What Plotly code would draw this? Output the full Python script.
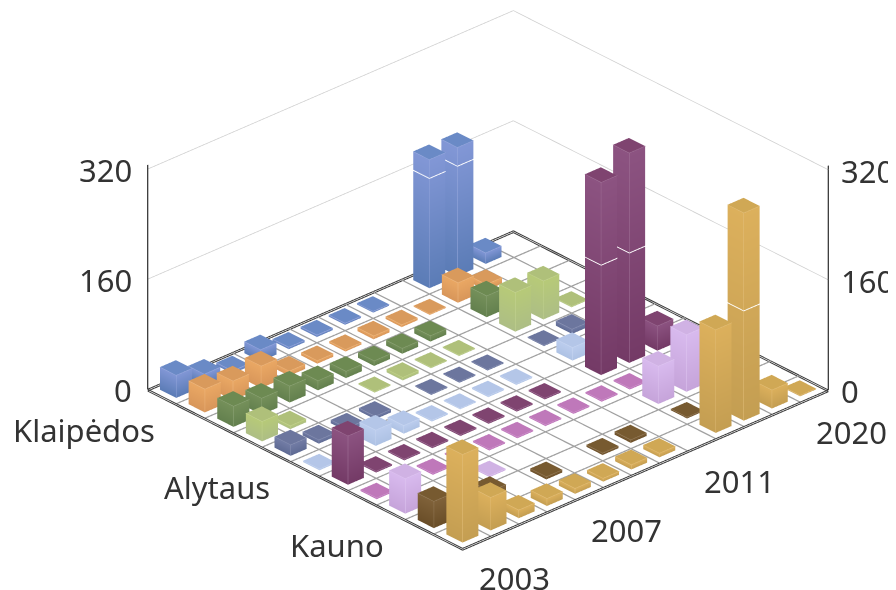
import math
import plotly.graph_objects as go

rows = ["Klaipėdos", "", "", "", "Alytaus", "", "", "", "Kauno", "", ""]
years = ["2003", "", "", "", "2007", "", "", "", "2011", "", "", "", "2020"]

klaipedos = [33, 17, 4, 17, 3, 3, 2.5, 2, 0, 187, 187, 16, 0]
r1 = [34, 28, 32, 7, 4.5, 3, 5, 3.5, 1.5, 29, 9, 0, 0]
r2 = [30, 24, 24, 14, 10, 7.5, 8, 8.5, 0, 31, 0, 0, 0]
r3 = [29, 5, 0, 0, 1.5, 4.5, 1.5, 1.5, 0, 57, 56, 1.5, 0]
alytaus = [16, 5.5, 5, 4.5, 0, 1.5, 1.5, 1.5, 0, 1.5, 7, 0, 0]
r5 = [2, 0, 23, 12, 2, 1.5, 2, 2, 0, 19, 0, 0, 0]
r6 = [71, 2, 2, 2, 2, 2, 2, 2, 0, 280, 305, 36, 0]
r7 = [2, 0, 2, 2, 2, 2, 2, 2, 2, 2, 0, 0, 0]
kauno = [51, 0, 0, 2, 0, 0, 0, 0, 0, 55, 83, 0, 0]
r9 = [39, 0, 18, 0, 4, 0, 3, 4.5, 0, 2, 0, 0, 0]
r10 = [128, 48, 12, 11, 8, 5, 7, 6, 0, 150, 302, 27, 1.5]
series = [klaipedos, r1, r2, r3, alytaus, r5, r6, r7, kauno, r9, r10]

# top colour, bottom colour, lid colour
palette = [
    ("#8297d6", "#5b7cb6", "#6a8ac6"), ("#eaa864", "#d8965a", "#d99a5c"),
    ("#75905a", "#63804e", "#6d8a52"), ("#b7ca78", "#adbe85", "#afc07a"),
    ("#737da6", "#5f6b94", "#6c769e"), ("#bccdee", "#aec2e4", "#b4c6e8"),
    ("#8c5381", "#743a66", "#7f4470"), ("#c57fc2", "#b96eb4", "#bf78ba"),
    ("#d8baee", "#c6a4da", "#d0b2e4"), ("#80623a", "#6a4e28", "#775a30"),
    ("#dcb05c", "#c49e52", "#d0a855"),
]
FILL = 0.565
C = len(years)
R = len(rows)
ZMAX = 320
BREAK = 160

fig = go.Figure()

def lighten(h, f=0.2):
    v = [int(h[i:i+2], 16) for i in (1, 3, 5)]
    return "#%02x%02x%02x" % tuple(int(c + (255 - c) * f) for c in v)

for r, vals in enumerate(series):
    X, Y, Z, I, J, K, VC = [], [], [], [], [], [], []
    ex, ey, ez = [], [], []
    bx, by, bz = [], [], []
    top, bot, lid = palette[r]
    for c, v in enumerate(vals):
        if v <= 0:
            continue
        x0, x1 = c + .5 - FILL / 2, c + .5 + FILL / 2
        yc = -(r + .5)
        y0, y1 = yc - FILL / 2, yc + FILL / 2
        n = len(X)
        for p in [(x0, y0), (x1, y0), (x1, y1), (x0, y1)]:
            X.append(p[0]); Y.append(p[1]); Z.append(v); VC.append(lid)
        I += [n, n]; J += [n + 1, n + 2]; K += [n + 2, n + 3]
        for a, b in [((x0, y0), (x1, y0)), ((x0, y0), (x0, y1))]:
            n = len(X)
            for p, z, col in [(a, 0, bot), (b, 0, bot), (b, v, top), (a, v, top)]:
                X.append(p[0]); Y.append(p[1]); Z.append(z); VC.append(col)
            I += [n, n]; J += [n + 1, n + 2]; K += [n + 2, n + 3]
        e = .004
        ex += [x0 - e, x0 - e, None, x0 - e, x1 + e, None, x0 - e, x0 - e, None]
        ey += [y0 - e, y0 - e, None, y0 - e, y0 - e, None, y0 - e, y1 + e, None]
        ez += [0, v, None, v, v, None, v, v, None]
        if v > BREAK:
            bx += [x1 + e, x0 - e, x0 - e, None]
            by += [y0 - e, y0 - e, y1 + e, None]
            bz += [BREAK, BREAK, BREAK, None]
    fig.add_trace(go.Mesh3d(x=X, y=Y, z=Z, i=I, j=J, k=K, vertexcolor=VC, flatshading=True,
                            lighting=dict(ambient=1, diffuse=0, specular=0, roughness=1, fresnel=0),
                            hoverinfo="skip", showscale=False))
    fig.add_trace(go.Scatter3d(x=ex, y=ey, z=ez, mode="lines", line=dict(color=lighten(top), width=1),
                               hoverinfo="skip", showlegend=False))
    if bx:
        fig.add_trace(go.Scatter3d(x=bx, y=by, z=bz, mode="lines", line=dict(color="#ffffff", width=2.5),
                                   hoverinfo="skip", showlegend=False))

gx, gy, gz = [], [], []
for c in range(1, C):
    gx += [c, c, None]; gy += [0, -R, None]; gz += [0, 0, None]
for r in range(1, R):
    gx += [0, C, None]; gy += [-r, -r, None]; gz += [0, 0, None]
fig.add_trace(go.Scatter3d(x=gx, y=gy, z=gz, mode="lines", line=dict(color="#a0a0a0", width=2.5), hoverinfo="skip"))
for lv in (0, -2.6):
    fig.add_trace(go.Scatter3d(x=[0, C, C, 0, 0], y=[0, 0, -R, -R, 0], z=[lv] * 5, mode="lines",
                               line=dict(color="#3a3a3a", width=2), hoverinfo="skip"))
wx2, wy2, wz2 = [], [], []
for z in (160, 320):
    wx2 += [0, 0, C, C, None]; wy2 += [-R * 0, 0, 0, -R, None]; wz2 += [z, z, z, z, None]
fig.add_trace(go.Scatter3d(x=wx2, y=wy2, z=wz2, mode="lines", line=dict(color="#cfcfcf", width=1.5), hoverinfo="skip"))
ax, ay, az = [], [], []
for (px, py) in [(0, 0), (C, -R)]:
    ax += [px, px, None]; ay += [py, py, None]; az += [0, ZMAX + 6, None]
fig.add_trace(go.Scatter3d(x=ax, y=ay, z=az, mode="lines", line=dict(color="#000000", width=2), hoverinfo="skip"))

FONT = dict(family="Noto Sans", size=31, color="#333333")
ann = []
for r, t in enumerate(rows):
    if t:
        ann.append(dict(x=0, y=-(r + .5), z=0, text=t, showarrow=False, xanchor="right", yanchor="middle",
                        xshift=-5, yshift=-33, font=FONT))
for c, t in enumerate(years):
    if t:
        ann.append(dict(x=c + .5, y=-R, z=0, text=t, showarrow=False, xanchor="left", yanchor="middle",
                        xshift=0, yshift=-36, font=FONT))
for z in (0, 160, 320):
    ann.append(dict(x=0, y=0, z=z, text=str(z), showarrow=False, xanchor="right", yanchor="middle",
                    xshift=-14, yshift=-1, font=FONT))
    ann.append(dict(x=C, y=-R, z=z, text=str(z), showarrow=False, xanchor="left", yanchor="middle",
                    xshift=11, yshift=-1, font=FONT))

off = dict(visible=False, showgrid=False, zeroline=False, showticklabels=False, showbackground=False)
t = math.radians(42.8); phi = math.radians(27.9); D = 2.0
SC = 1.783 * 1.0295
fig.update_layout(
    width=888, height=582, margin=dict(l=0, r=0, t=0, b=0), paper_bgcolor="white", showlegend=False,
    scene=dict(
        domain=dict(x=[0.0811, 1], y=[0.067, 1]),
        xaxis=dict(range=[0, C], **off), yaxis=dict(range=[-R, 0], **off), zaxis=dict(range=[-10, 330], **off),
        aspectmode="manual", aspectratio=dict(x=SC, y=.93 * SC, z=.53125 * SC),
        camera=dict(projection=dict(type="orthographic"), up=dict(x=0, y=0, z=1),
                    eye=dict(x=-D * math.cos(phi) * math.sin(t), y=-D * math.cos(phi) * math.cos(t), z=D * math.sin(phi))),
        annotations=ann,
    ),
)
fig.write_html("out.html")
